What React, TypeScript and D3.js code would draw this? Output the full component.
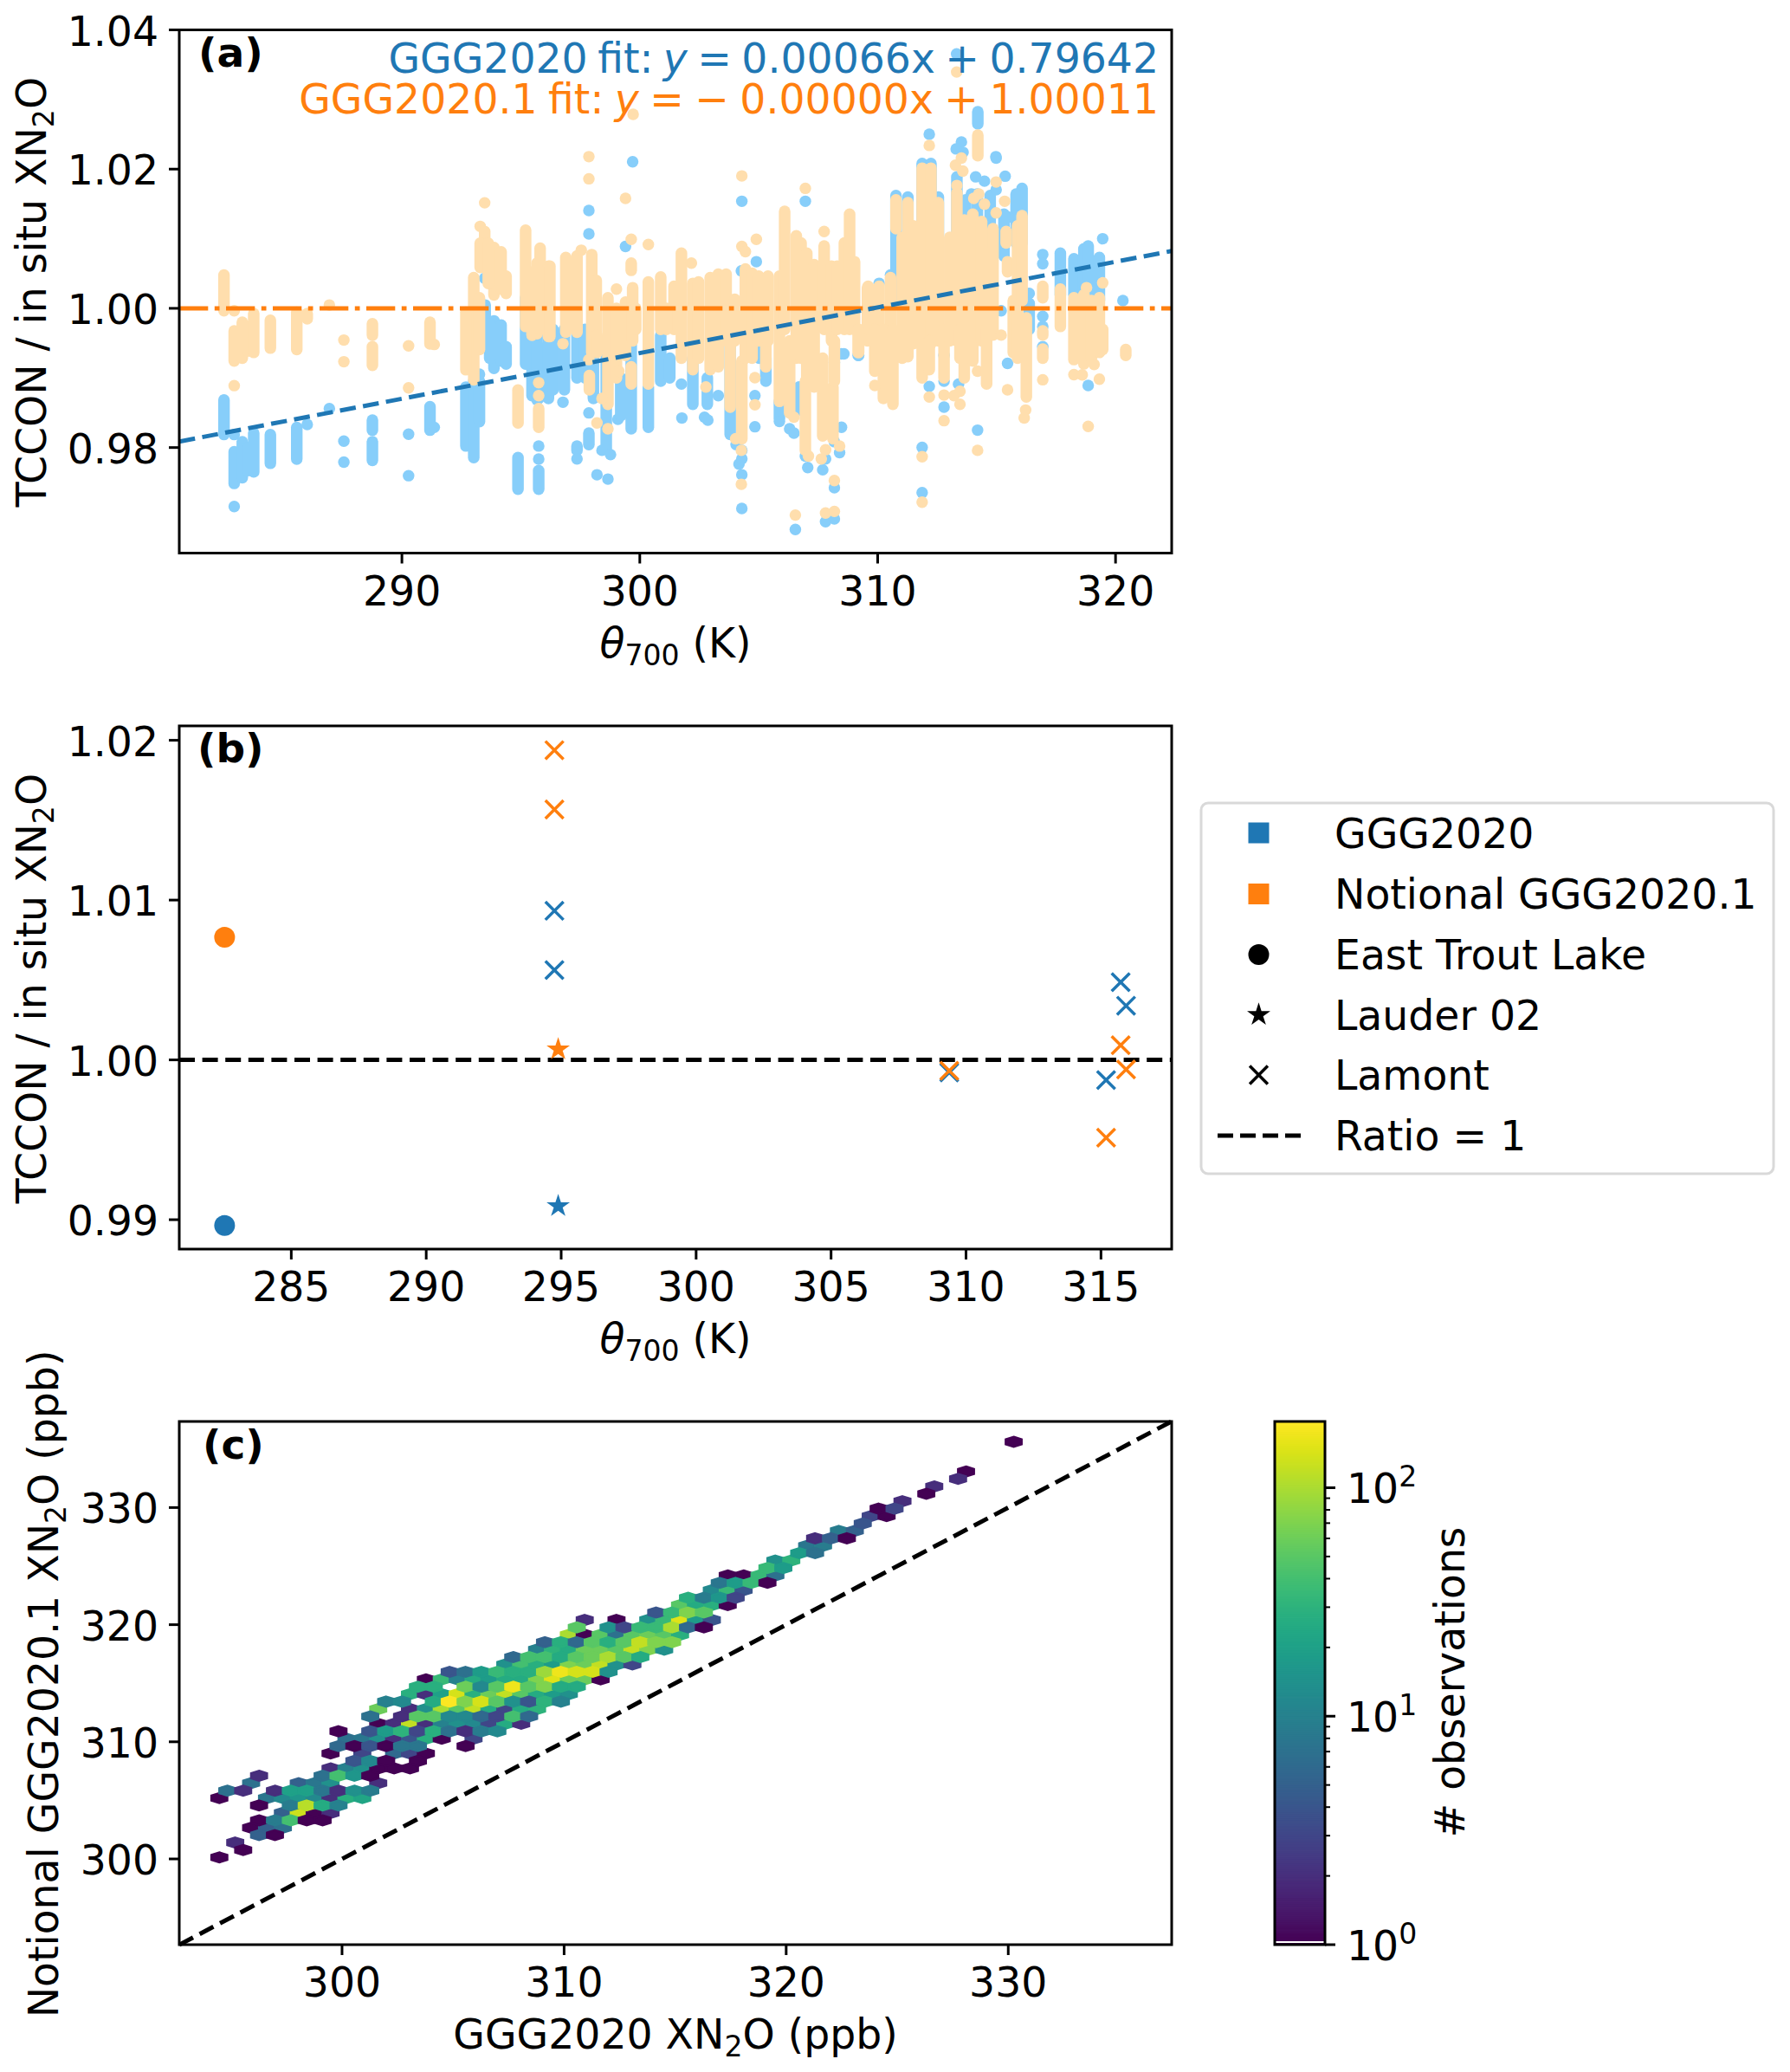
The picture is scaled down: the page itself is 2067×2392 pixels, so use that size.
import React from "react";
import * as d3 from "d3";

const FONT = "'DejaVu Sans', sans-serif";
const C_BLUE = "#1f77b4";
const C_ORANGE = "#ff7f0e";
const C_SKY = "#87cefa";
const C_NAVAJO = "#ffdead";

// Panel (a): [theta, ratio] single observations, or [theta, high, low] unbroken vertical stacks
const ggg2020Columns: number[][] = [
  [282.52,.98683,.98187],[282.95,.98187],[282.95,.97939,.97484],[282.95,.97153],[283.29,.98084,.97566],[283.53,.98001,.9767],
  [283.77,.98208,.97649],[284.47,.98187,.97773],[285.58,.9829,.97835],[286.02,.98332],[286.95,.98559],[287.56,.98092],[287.56,.9779],
  [288.76,.98394,.98249],[288.76,.98084,.97815],[290.28,.98191],[290.28,.97596],[291.18,.98588,.98249],[291.36,.9829],[293.48,1.00433],
  [292.69,.98869,.98022],[293.02,.98952,.97856],[293.26,.98952,.98373],[293.26,.99055],[293.5,1.00048,.99448],[293.87,.99821,.99138],
  [294.17,.99759,.99242],[294.38,.99448,.992],[293.69,.99779,.99283],[295.2,1.00152,.992],[295.47,.99862,.98745],[295.75,.99448,.98704],
  [294.88,.97856,.97401],[295.75,.98022],[295.75,.97835],[295.75,.9767,.97401],
  [295.25,1.00194,.99201],[295.68,.99697,.98684],[296.16,.99697,.98705],[296.35,.99697,.98829],[296.83,.99697,.98829],[296.77,.98651],
  [297.36,.99697,.99],[297.7,.99697,.99],[297.36,.98022,.9796],[297.36,.97836],[297.86,.98208,.98043],[297.86,.98498],[298.05,.99284,.98705],[298.59,.99284,.97981],
  [298.41,.9796],[298.77,.97898],[299.08,.98407],[298.2,.97609],[298.66,.97547],[299.2,.99,.98457],[299.64,.99532,.9827],[300.36,.9887,.98291],
  [300.88,.99615,.98953],[301.26,.99284,.99],[301.75,.98912],[302.23,.99284,.98622],[301.77,.98424],[302.72,.98436],[302.86,.98395],
  [302.84,.99,.98622],[303.3,.98746],[303.8,.99532,.98188],[304.29,.9796],[304.17,.97762],[304.29,.97609],[304.29,.97125],[304.05,.98043],
  [304.29,.97836],[304.84,.98746],[304.84,.98299],[305.3,.99284,.98953],[305.02,.99491,.99284],[305.87,.98663,.98415],[306.3,.9827],
  [306.48,.98208],[306.7,.9887,.98539],[306.96,.97878],[307.06,.97712],[307.69,.9768],[307.81,.97836],[308.4,.97927],[308.18,.97423],
  [307.81,.96935],[308.18,.96976],[306.54,.96823],[308.18,.98084],[308.48,.98291],[308.18,.99222],[308.48,.99346],[309.2,.99325],
  [299.7,1.02105],[297.86,1.01406],[297.86,1.0107],[299.4,1.00889],[304.29,1.01538],[306.96,1.01538],[304.9,1.0067],[304.27,1.00537],
  [310.77,1.01621,1.00111],[311.27,1.016,1.00111],[312.55,1.016,1.00525],[311.87,1.0208,1.0],[312.24,1.0208,1.0],[313.33,1.01889,1.00938],
  [314.12,1.01889],[314.49,1.01827],[314.73,1.01621,1.00938],[313.7,1.01559,1.01145],[313.94,1.01641],[314.19,1.01641,1.0],[314.98,1.02158],
  [315.36,1.01898],[314.98,1.01703],[316.07,1.01724,1.00938],[315.82,1.01641,1.00938],[315.51,1.0131],[315.31,1.01352,1.00752],[316.94,1.00773],
  [316.94,1.00641],[317.68,1.00793,1.00194],[318.25,1.00711,1.00194],[318.67,1.00855,1.00194],[318.85,1.00897,1.00194],[319.32,1.00731,1.00111],
  [319.46,1.01],[316.37,1.00214],[316.37,1.0007,.99697],[316.94,.99884],[316.94,.99739],[316.94,.9945],[315.46,.99209],[318.85,.98891],
  [320.31,1.00111],[312.17,.98878],[312.79,.98581],[311.87,.98002],[311.87,.97352],[314.2,.9825],[312.79,.99325],[312.79,.98953],[313.4,.98912],
  [308.58,.99346],[309.18,.99325],[310.54,1.0048],[310.06,1.00359],[315.19,.99966],[305.87,.98374],
  [314.21,1.02824,1.0265],[312.17,1.02501],[313.52,1.0239],[313.3,1.0229],[313.59,1.02241],[314.97,1.02179],[313.32,1.03655],
];

const ggg20201Columns: number[][] = [
  [282.52,1.0048,.99966],[282.95,.99966],[282.95,.99676,.99242],[282.95,.9889],[283.29,.998,.99283],[283.53,.99738,.99386],[283.77,.99924,.99366],
  [284.47,.99829,.99428],[285.58,.99945,.99407],[286.02,.99924,.9985],[286.95,1.00048],[287.56,.99544],[287.56,.99233],[288.76,.99779,.99614],
  [288.76,.99448,.9918],[290.28,.99461],[290.28,.98857],[291.18,.998,.9949],[291.36,.99481],[293.48,1.01516],[293.29,1.01177],[293.48,1.01103,1.0102],
  [293.29,1.00937,1.00586],[293.02,1.00441,.98973],[292.69,.99945,.99117],[293.26,1.00152,.99407],[293.87,1.00875,1.00193],[294.17,1.00813,1.00276],
  [294.38,1.00462,1.00214],[293.63,1.00937,1.00358],[295.47,1.00524,.99614],[294.88,.98828,.98352],[295.75,.98931],[295.75,.98745],[295.75,.98559,.9829],
  [295.2,1.01124,.99739],[295.68,1.00649,.99635],[295.81,1.00864,.99697],[296.16,1.00607,.99594],[296.22,1.00607,.99594],[296.77,.99491],
  [296.89,1.00731,.99656],[297.36,1.00752,.99656],[297.54,1.00835],[297.98,1.00773,.99366],[297.86,.99263],[297.88,.99036,.98829],[298.17,1.00401,.99615],
  [298.2,.99615,.99366],[298.66,1.00152,.98622],[298.41,.98705],[299.02,1.00276],[299.02,1.0,.99],[299.12,.99098],[299.4,1.0009,.99325],[299.7,1.00297,.99532],
  [299.83,1.0,.99697],[299.64,1.00649,1.00545],[299.64,.9916,.98912],[298.2,.98353],[298.66,.9827],[300.36,1.0038,.98912],[300.88,1.0045,.99697],[301.44,1.00318,.99697],
  [301.12,1.0,.99697],[301.75,1.00793,.99284],[302.17,1.00649],[302.23,1.00359,.99118],[302.47,1.0038,.99284],[302.78,.9887],[302.96,1.00442,.99118],[303.3,1.00491,.9916],
  [303.63,1.00491,.99532],[303.99,1.00132,.99532],[303.8,.99532,.98581],[304.29,.99243,.98126],[304.44,1.00566,.99284],[304.72,1.00504,.99284],
  [304.03,.98126],[304.27,.9796],[304.27,.97472],[304.84,.99003],[304.84,.98614],[305.0,1.00463,.99532],[305.3,.99532,.9916],[305.39,1.00463,.99532],[305.87,1.00463,.98663],
  [306.09,1.01393,.99697],[306.3,.99532,.98498],[306.48,.98436],[306.58,1.01042,.99284],[306.78,1.00938,.99284],[307.02,1.00793,.98953],[306.96,.98953,.9796],
  [307.09,.97878],[307.33,1.00628,.9887],[307.63,.97836],[307.81,.97969],[307.69,.99284,.98167],[307.75,1.01104],[307.75,1.00897,.99697],[308.06,1.00607,.99532],
  [308.12,.9887,.98126],[308.18,.99532,.98953],[308.4,.98022],[308.18,.97526],[308.3,1.00607,.99697],[308.6,1.00938,.99697],[308.82,1.01352,.99697],[309.03,1.0067,.99697],
  [309.2,.99697,.99366],[309.57,1.00297,.99532],
  [297.86,1.02179],[297.86,1.01861],[299.4,1.01579],[299.64,1.00992],[300.36,1.00918],[304.29,1.01902],[304.29,1.00889],[304.44,1.00814],[304.9,1.00992],
  [306.96,1.01724],[306.54,.9703],[307.81,.97059],[308.18,.97083],[299.72,1.02787],
  [310.06,1.00318,.99532],[309.6,1.00318,.99697],[310.54,1.00442,.9887],[310.24,.99697,.98705],[310.64,.99697,.98622],[309.88,.99697,.99098],[309.88,.98891],
  [309.18,.99697,.99366],[311.03,1.01021,.99284],[310.77,1.01559,1.01145],[311.27,1.01517,.99305],[311.5,1.01186,.99491],[311.87,1.02014,.99],[312.24,1.02014,.99491],
  [312.17,.99532,.99118],[312.17,.98726],[312.55,1.01517,.99532],[312.79,.99697,.99],[312.79,.98754],[312.79,.98386],[313.03,1.01021,.99532],[313.33,1.01662,.99532],
  [313.33,1.01765],[313.27,1.02055],[313.58,1.01972],[313.52,1.02158],[313.46,.99697,.99284],[313.46,.98808],[313.46,.98622],[313.21,.98746],[313.64,1.01269,.99],
  [314,1.01352,.99243],[314.2,.99098],[314.04,1.0158],[314.49,1.01497],[314.25,1.01641],[314.37,1.01248,.99532],[314.58,.99697,.98912],[314.85,1.01145,.99615],
  [314.98,1.01815],[314.98,1.01372],[315.34,1.01538],[314.2,.9796],[311.87,.97869],[311.87,.97216],[315.4,1.01104,1.00938],[315.46,1.0067,1.00525],[315.19,.99615],
  [315.46,.98829],[315.7,1.00111,.99366],[315.88,1.01186,.99284],[316.07,1.01331,1.00111],[316.25,.99863,.98726],[316.22,.98539],[316.16,.98424],[316.94,1.00318,1.00152],
  [316.94,.99677,.99615],[316.94,.99416,.99284],[316.94,.98974],[317.68,1.00276,.99739],[318.25,1.00152,.99263],[318.25,.99048],[318.67,1.00194,.99201],[318.6,.99044],
  [318.99,1.00111,.99284],[319.1,.99193],[319.32,1.00152,.99366],[319.32,.98982],[318.78,1.00297],[319.46,1.00367],[318.85,.98304],[319.46,.99697,.99408],[320.43,.99408,.99325],
  [314.21,1.02489,1.02191],[312.17,1.0234],[313.32,1.03395],
];

const fitSlope = 0.000656;
const fitIntercept = 0.79677;
const orangeFitLevel = 1.0;

// Panel (b): [theta, ratio]
const etlBlue = [[282.53, 0.98964]];
const etlOrange = [[282.53, 1.00767]];
const lauderBlue = [[294.89, 0.99085]];
const lauderOrange = [[294.89, 1.00066]];
const lamontBlue = [[294.75, 1.00933],[294.75, 1.00562],[309.38, 0.99921],[315.73, 1.00486],[315.93, 1.00339],[315.19, 0.99874]];
const lamontOrange = [[294.75, 1.01938],[294.75, 1.01567],[309.38, 0.99932],[315.73, 1.00092],[315.93, 0.9994],[315.19, 0.99513]];

// Panel (c): hexbin lattice. Row index = position in this list; each row is column, count, column, count ...
const hexOriginX = 294.475;
const hexStepX = 0.3577;
const hexOriginY = 300.13;
const hexStepY = 0.6336;
const hexRows: number[][] = [
  [0,1],[3,1],[2,2],[5,5,7,1],[4,1,6,5,8,7],[5,1,7,9,9,40,11,1,13,1],[8,5,10,130,12,1,14,2],[5,1,9,9,11,110,13,25,15,10],
  [0,1,6,8,8,12,10,16,12,12,14,2,16,28,18,22],[1,7,3,2,7,2,9,20,11,20,13,8,15,2,17,14,19,9],[4,7,10,5,12,8,14,14,20,2],
  [5,2,13,7,15,40,17,16,19,1],[14,2,16,10,18,14,20,1,22,1,24,1],[17,4,19,12,21,1,25,1],[14,1,18,3,22,6,24,3,26,1],
  [15,6,17,1,19,4,21,1,23,8,25,8,31,1],[16,7,18,8,20,14,22,2,24,4,26,28,28,1,32,3],[15,1,19,4,21,18,23,30,25,3,27,28,29,7,31,2,33,9,35,12],
  [20,1,22,2,24,120,26,2,28,10,30,14,32,12,34,3,36,25,38,2],[19,7,23,2,25,50,27,50,29,12,31,12,33,6,35,3,37,40,39,6],
  [20,60,24,2,26,14,28,100,30,50,32,120,34,25,36,3,38,25,40,30],[21,10,23,12,27,25,29,190,31,70,33,140,35,50,37,14,39,4,41,30,43,10],
  [24,28,26,2,28,20,30,140,32,28,34,60,36,120,38,50,40,25,42,18,44,14],[25,28,27,28,31,60,33,12,35,50,37,170,39,50,41,70,43,25,45,25],
  [26,1,28,35,30,10,32,25,34,18,36,25,38,25,40,70,42,150,44,60,46,60,48,1],[29,4,31,7,33,18,35,35,37,28,39,28,41,90,43,170,45,140,47,140,49,14],
  [36,14,38,40,40,28,42,18,44,70,46,60,48,120,50,14,52,3],[37,6,39,40,41,40,43,25,45,50,47,60,49,100,51,50,53,25],
  [40,10,42,30,44,25,46,60,48,60,50,50,52,120,54,70,56,14],[41,5,43,28,45,6,47,50,49,28,51,50,53,120,55,70,57,70],
  [44,100,46,1,48,50,50,7,52,50,54,60,56,50,58,28],[45,50,49,14,51,3,53,35,55,35,57,100,59,6,61,1],[46,2,50,1,54,14,56,35,58,150,60,18,62,4],
  [55,4,57,35,59,70,61,50],[58,50,60,25,62,28,64,1],[59,28,61,9,63,16,65,3],[62,12,64,35,66,4],[63,8,65,18,67,35,69,1],[64,1,66,1,68,35,70,7],
  [69,35,71,18],[70,14,72,30],[73,18,75,7],[74,8,76,9],[75,2,77,5,79,1],[78,9,80,5],[81,4],[82,3,84,1],[83,1,85,3],[86,2],[89,1],[90,2],[93,2],[94,1],[],[],[],[100,1],
];

const countMax = 195;
const xTicksA = [290, 300, 310, 320];
const yTicksA = [0.98, 1.0, 1.02, 1.04];
const xTicksB = [285, 290, 295, 300, 305, 310, 315];
const yTicksB = [0.99, 1.0, 1.01, 1.02];
const ticksC = [300, 310, 320, 330];
const cbMajor = [1, 10, 100];
const cbMinor = [2,3,4,5,6,7,8,9,20,30,40,50,60,70,80,90];
const legendLabels = ["GGG2020", "Notional GGG2020.1", "East Trout Lake", "Lauder 02", "Lamont", "Ratio = 1"];

const L = 207, R = 1353;
const xA = d3.scaleLinear().domain([280.64, 322.36]).range([L, R]);
const yA = d3.scaleLinear().domain([0.96484, 1.04]).range([638.5, 34.5]);
const xB = d3.scaleLinear().domain([280.85, 317.62]).range([L, R]);
const yB = d3.scaleLinear().domain([0.98816, 1.0209]).range([1442, 838]);
const xC = d3.scaleLinear().domain([292.67, 337.36]).range([L, R]);
const yC = d3.scaleLinear().domain([292.68, 337.35]).range([2245, 1641]);
const cbY = d3.scaleLog().domain([1, countMax]).range([2245, 1641]);
const CB_L = 1472, CB_R = 1530;
const colorOf = (c: number) => d3.interpolateViridis(Math.log10(c) / Math.log10(countMax));

const TICK = 3;
const FS = 47.3;

function Frame({ top, bottom }: { top: number; bottom: number }) {
  return <rect x={L} y={top} width={R - L} height={bottom - top} fill="none" stroke="#000" strokeWidth={TICK} />;
}

function Ticks({ xs, ys, x, y, bottom, fmtY }: any) {
  return (
    <g fontFamily={FONT} fontSize={FS} fill="#000">
      {xs.map((t: number) => (
        <g key={"x" + t}>
          <line x1={x(t)} x2={x(t)} y1={bottom} y2={bottom + 12} stroke="#000" strokeWidth={TICK} />
          <text x={x(t)} y={bottom + 60} textAnchor="middle">{t}</text>
        </g>
      ))}
      {ys.map((t: number) => (
        <g key={"y" + t}>
          <line x1={L - 12} x2={L} y1={y(t)} y2={y(t)} stroke="#000" strokeWidth={TICK} />
          <text x={L - 24} y={y(t) + 18} textAnchor="end">{fmtY(t)}</text>
        </g>
      ))}
    </g>
  );
}

function Columns({ data, color }: { data: number[][]; color: string }) {
  const r = 6.7;
  const line = d3.line<number[]>().x((d) => xA(d[0])).y((d) => yA(d[1]));
  return (
    <g>
      {data.map((d, i) =>
        d.length === 2 ? (
          <circle key={i} cx={xA(d[0])} cy={yA(d[1])} r={r} fill={color} />
        ) : (
          <path key={i} d={line([[d[0], d[1]], [d[0], d[2]]]) as string} stroke={color} strokeWidth={2 * r} strokeLinecap="round" fill="none" />
        )
      )}
    </g>
  );
}

function YLabel({ x, y, text }: { x: number; y: number; text: string }) {
  return (
    <text transform={`translate(${x},${y}) rotate(-90)`} textAnchor="middle" fontFamily={FONT} fontSize={FS} fill="#000">
      {text} XN<tspan fontSize={FS * 0.7} dy={9}>2</tspan><tspan dy={-9}>O</tspan>
    </text>
  );
}

function ThetaLabel({ bottom }: { bottom: number }) {
  return (
    <text x={780} y={bottom + 120} textAnchor="middle" fontFamily={FONT} fontSize={FS} fill="#000">
      <tspan fontStyle="italic">θ</tspan><tspan fontSize={FS * 0.7} dy={9}>700</tspan><tspan dy={-9}> (K)</tspan>
    </text>
  );
}

function PanelTag({ x, y, t }: { x: number; y: number; t: string }) {
  return <text x={x} y={y} fontFamily={FONT} fontSize={47} fontWeight="bold" fill="#000">{t}</text>;
}

const star = d3.symbol(d3.symbolStar, 225)() as string;
const cross = d3.symbol(d3.symbolTimes, 285)() as string;

function Sites({ circles, stars, crosses, color }: any) {
  return (
    <g>
      {circles.map((d: number[], i: number) => <circle key={i} cx={xB(d[0])} cy={yB(d[1])} r={12} fill={color} />)}
      {stars.map((d: number[], i: number) => <path key={i} d={star} transform={`translate(${xB(d[0])},${yB(d[1])})`} fill={color} />)}
      {crosses.map((d: number[], i: number) => <path key={i} d={cross} transform={`translate(${xB(d[0])},${yB(d[1])})`} stroke={color} strokeWidth={3.5} fill="none" />)}
    </g>
  );
}

function Hexes() {
  const w = (xC(hexStepX) - xC(0));
  const s = (yC(0) - yC(hexStepY)) * (2 / 3);
  const hex = `M0,${-s}L${w},${-s / 2}L${w},${s / 2}L0,${s}L${-w},${s / 2}L${-w},${-s / 2}Z`;
  const cells: { i: number; j: number; c: number }[] = [];
  hexRows.forEach((row, j) => {
    for (let k = 0; k < row.length; k += 2) cells.push({ i: row[k], j, c: row[k + 1] });
  });
  const order = [...cells.filter((d) => d.j % 2 === 0), ...cells.filter((d) => d.j % 2 === 1)];
  return (
    <g>
      {order.map((d, idx) => {
        const col = colorOf(d.c);
        return (
          <path key={idx} d={hex} fill={col} stroke={col} strokeWidth={2.5}
            transform={`translate(${xC(hexOriginX + d.i * hexStepX)},${yC(hexOriginY + d.j * hexStepY)})`} />
        );
      })}
    </g>
  );
}

function Legend() {
  const rows = [961.5, 1032, 1102, 1171.5, 1241, 1311];
  const hx = 1453.5;
  return (
    <g fontFamily={FONT} fontSize={FS} fill="#000">
      <rect x={1387} y={927} width={661} height={428} rx={8} fill="#fff" stroke="#d9d9d9" strokeWidth={3} />
      <rect x={hx - 12} y={rows[0] - 12} width={24} height={24} fill={C_BLUE} />
      <rect x={hx - 12} y={rows[1] - 12} width={24} height={24} fill={C_ORANGE} />
      <circle cx={hx} cy={rows[2]} r={12} fill="#000" />
      <path d={star} transform={`translate(${hx},${rows[3]})`} fill="#000" />
      <path d={cross} transform={`translate(${hx},${rows[4]})`} stroke="#000" strokeWidth={3.5} fill="none" />
      <line x1={1406} x2={1503} y1={rows[5]} y2={rows[5]} stroke="#000" strokeWidth={5} strokeDasharray="18 8" />
      {legendLabels.map((t, i) => <text key={t} x={1541} y={rows[i] + 17}>{t}</text>)}
    </g>
  );
}

function Colorbar() {
  const n = 256;
  const levels = d3.range(n).map((i) => Math.pow(countMax, i / n));
  const h = (2245 - 1641) / n;
  return (
    <g fontFamily={FONT} fontSize={FS} fill="#000">
      {levels.map((v, i) => (
        <rect key={i} x={CB_L} width={CB_R - CB_L} y={cbY(v) - h - 0.4} height={h + 0.8} fill={colorOf(v)} />
      ))}
      <line x1={CB_L} x2={CB_R} y1={2242} y2={2242} stroke="#fff" strokeWidth={2} />
      <rect x={CB_L} y={1641} width={CB_R - CB_L} height={604} fill="none" stroke="#000" strokeWidth={TICK} />
      {cbMinor.map((t) => <line key={t} x1={CB_R} x2={CB_R + 6} y1={cbY(t)} y2={cbY(t)} stroke="#000" strokeWidth={2} />)}
      {cbMajor.map((t, i) => (
        <g key={t}>
          <line x1={CB_R} x2={CB_R + 12} y1={cbY(t)} y2={cbY(t)} stroke="#000" strokeWidth={TICK} />
          <text x={1555} y={cbY(t) + 18}>10<tspan fontSize={FS * 0.7} dy={-19}>{i}</tspan></text>
        </g>
      ))}
      <text transform="translate(1691,1942) rotate(-90)" textAnchor="middle"># observations</text>
    </g>
  );
}

export default function App() {
  const fit = d3.line<number>().x((t) => xA(t)).y((t) => yA(fitSlope * t + fitIntercept));
  return (
    <svg width={2067} height={2392} viewBox="0 0 2067 2392" style={{ position: "absolute", left: 0, top: 0, background: "#fff" }}>
      <defs>
        <clipPath id="clipA"><rect x={L} y={34.5} width={R - L} height={604} /></clipPath>
      </defs>

      {/* (a) */}
      <g clipPath="url(#clipA)">
        <Columns data={ggg2020Columns} color={C_SKY} />
        <Columns data={ggg20201Columns} color={C_NAVAJO} />
        <line x1={L} x2={R} y1={yA(orangeFitLevel)} y2={yA(orangeFitLevel)} stroke={C_ORANGE} strokeWidth={5} strokeDasharray="33.3 7.5 5.7 7.5" />
        <path d={fit(xA.domain()) as string} fill="none" stroke={C_BLUE} strokeWidth={5} strokeDasharray="18.5 8.5" />
      </g>
      <Frame top={34.5} bottom={638.5} />
      <Ticks xs={xTicksA} ys={yTicksA} x={xA} y={yA} bottom={638.5} fmtY={(t: number) => t.toFixed(2)} />
      <PanelTag x={229} y={77} t="(a)" />
      <g fontFamily={FONT} fontSize={FS} textAnchor="end">
        <text x={1338} y={84} fill={C_BLUE} wordSpacing={-3.6}>GGG2020 fit: <tspan fontStyle="italic">y</tspan> = 0.00066x + 0.79642</text>
        <text x={1338} y={131} fill={C_ORANGE} wordSpacing={-2.6}>GGG2020.1 fit: <tspan fontStyle="italic">y</tspan> = − 0.00000x + 1.00011</text>
      </g>
      <YLabel x={53} y={337} text="TCCON / in situ" />
      <ThetaLabel bottom={638.5} />

      {/* (b) */}
      <line x1={L} x2={R} y1={yB(1)} y2={yB(1)} stroke="#000" strokeWidth={5} strokeDasharray="18 8.6" />
      <Sites circles={etlBlue} stars={lauderBlue} crosses={lamontBlue} color={C_BLUE} />
      <Sites circles={etlOrange} stars={lauderOrange} crosses={lamontOrange} color={C_ORANGE} />
      <Frame top={838} bottom={1442} />
      <Ticks xs={xTicksB} ys={yTicksB} x={xB} y={yB} bottom={1442} fmtY={(t: number) => t.toFixed(2)} />
      <PanelTag x={228} y={880} t="(b)" />
      <YLabel x={53} y={1141} text="TCCON / in situ" />
      <ThetaLabel bottom={1442} />

      {/* (c) */}
      <Hexes />
      <line x1={xC(292.67)} y1={yC(292.67)} x2={xC(337.35)} y2={yC(337.35)} stroke="#000" strokeWidth={5} strokeDasharray="18 8.6" />
      <Frame top={1641} bottom={2245} />
      <Ticks xs={ticksC} ys={ticksC} x={xC} y={yC} bottom={2245} fmtY={(t: number) => String(t)} />
      <PanelTag x={234} y={1684} t="(c)" />
      <text transform="translate(67,1944) rotate(-90)" textAnchor="middle" fontFamily={FONT} fontSize={FS} fill="#000">
        Notional GGG2020.1 XN<tspan fontSize={FS * 0.7} dy={9}>2</tspan><tspan dy={-9}>O (ppb)</tspan>
      </text>
      <text x={780} y={2365} textAnchor="middle" fontFamily={FONT} fontSize={FS} fill="#000">
        GGG2020 XN<tspan fontSize={FS * 0.7} dy={9}>2</tspan><tspan dy={-9}>O (ppb)</tspan>
      </text>

      <Legend />
      <Colorbar />
    </svg>
  );
}
